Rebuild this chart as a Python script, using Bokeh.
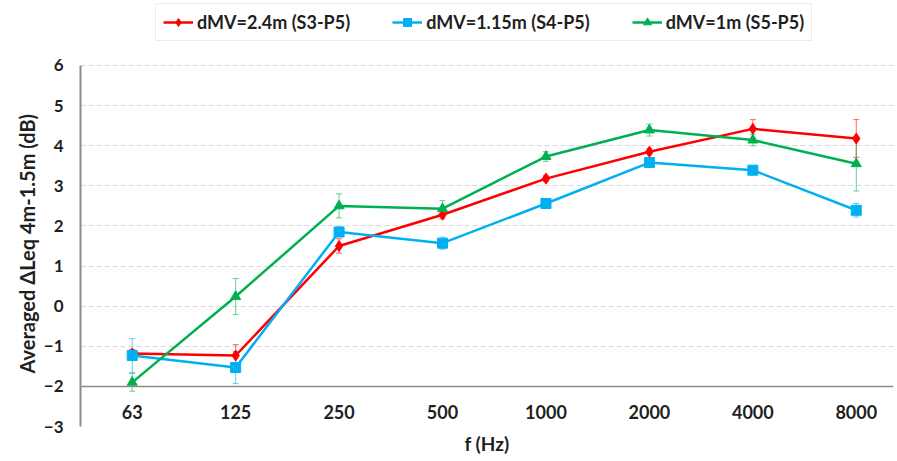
from bokeh.plotting import figure
from bokeh.models import (ColumnDataSource, Range1d, FixedTicker, Whisker, TeeHead,
                          Span, Legend, LegendItem, Title)
from bokeh.core.properties import value
from bokeh.embed import file_html
from bokeh.resources import INLINE

freqs = ["63", "125", "250", "500", "1000", "2000", "4000", "8000"]
s1_name = "dMV=2.4m (S3-P5)"
s1 = [-1.18, -1.23, 1.50, 2.28, 3.18, 3.85, 4.42, 4.18]
e1 = [0.10, 0.27, 0.18, 0.10, 0.08, 0.08, 0.23, 0.47]
s2_name = "dMV=1.15m (S4-P5)"
s2 = [-1.23, -1.53, 1.85, 1.57, 2.56, 3.58, 3.39, 2.39]
e2 = [0.42, 0.40, 0.12, 0.15, 0.08, 0.10, 0.10, 0.17]
s3_name = "dMV=1m (S5-P5)"
s3 = [-1.90, 0.24, 2.50, 2.43, 3.73, 4.39, 4.14, 3.55]
e3 = [0.22, 0.45, 0.30, 0.20, 0.12, 0.15, 0.14, 0.68]
y_ticks = [-3, -2, -1, 0, 1, 2, 3, 4, 5, 6]
y_axis_bounds = (-3, 6)
x_axis_crossing = -2
x_label_level = -2.63
y_title = "Averaged ΔLeq 4m-1.5m (dB)"
x_title = "f (Hz)"

FONT = "Lato"
TXT = "#1f1f1f"
xs = list(range(len(freqs)))

p = figure(width=895, height=458, output_backend="svg", toolbar_location=None,
           title=None,
           x_range=Range1d(-0.5, 7.36), y_range=Range1d(-3, 7.57),
           min_border_left=80, min_border_right=2, min_border_top=2,
           min_border_bottom=32)
p.outline_line_color = None
p.background_fill_color = "white"

# y axis
p.yaxis.ticker = FixedTicker(ticks=y_ticks)
p.yaxis.bounds = y_axis_bounds
p.yaxis.major_tick_line_color = None
p.yaxis.major_tick_out = 0
p.yaxis.major_tick_in = 0
p.yaxis.minor_tick_line_color = None
p.yaxis.axis_line_color = "#8c8c8c"
p.yaxis.axis_line_width = 2
p.yaxis.major_label_text_font = FONT
p.yaxis.major_label_text_font_style = "bold"
p.yaxis.major_label_text_font_size = "17px"
p.yaxis.major_label_text_color = TXT
p.yaxis.major_label_standoff = 17

# y title placed beside the axis, starting at the bottom of the -3..6 span
p.add_layout(Title(text=y_title, align="left", offset=53, standoff=4,
                   text_font=FONT, text_font_style="bold",
                   text_font_size="20px", text_color=TXT), "left")

# x axis: title only; category labels sit inside the frame (axis crosses at -2)
p.xaxis.ticker = FixedTicker(ticks=[])
p.xaxis.major_tick_line_color = None
p.xaxis.major_tick_out = 0
p.xaxis.major_tick_in = 0
p.xaxis.minor_tick_line_color = None
p.xaxis.axis_line_color = None
p.xaxis.axis_label = x_title
p.xaxis.axis_label_text_font = FONT
p.xaxis.axis_label_text_font_style = "bold"
p.xaxis.axis_label_text_font_size = "19px"
p.xaxis.axis_label_text_color = TXT
p.xaxis.axis_label_standoff = 5

p.xgrid.grid_line_color = None
p.ygrid.ticker = FixedTicker(ticks=y_ticks)
p.ygrid.grid_line_color = "#d9d9d9"
p.ygrid.grid_line_dash = "5 3"
p.ygrid.grid_line_width = 1

p.add_layout(Span(location=x_axis_crossing, dimension="width",
                  line_color="#8c8c8c", line_width=1.5))

p.text(x=xs, y=[x_label_level] * len(xs), text=freqs,
       text_font=value(FONT), text_font_style="bold", text_font_size="18px",
       text_color=TXT, text_align="center", text_baseline="middle")

series = [
    (s1_name, s1, e1, "#ff0000", "diamond", 11),
    (s2_name, s2, e2, "#00b0f0", "square", 10),
    (s3_name, s3, e3, "#00b050", "triangle", 10),
]
items = []
for name, ys, es, col, mk, sz in series:
    src = ColumnDataSource(dict(x=xs, y=ys,
                                upper=[a + b for a, b in zip(ys, es)],
                                lower=[a - b for a, b in zip(ys, es)]))
    w = Whisker(source=src, base="x", upper="upper", lower="lower",
                line_color=col, line_alpha=0.6, line_width=1,
                upper_head=TeeHead(size=6, line_color=col, line_alpha=0.6),
                lower_head=TeeHead(size=6, line_color=col, line_alpha=0.6))
    p.add_layout(w)
    l = p.line("x", "y", source=src, line_color=col, line_width=2.5)
    m = p.scatter("x", "y", source=src, marker=mk, size=sz, fill_color=col,
                  line_color=col)
    items.append(LegendItem(label=name, renderers=[l, m]))

legend = Legend(items=items, orientation="horizontal", location=(75, 385),
                border_line_color="#d9d9d9", border_line_width=1,
                background_fill_color="white", background_fill_alpha=1,
                label_text_font=FONT, label_text_font_size="18px",
                label_text_font_style="bold",
                label_text_color=TXT, glyph_width=30, glyph_height=20,
                spacing=42, padding=7, margin=0, label_standoff=4)
p.add_layout(legend)

open("out.html", "w").write(file_html(p, INLINE))
